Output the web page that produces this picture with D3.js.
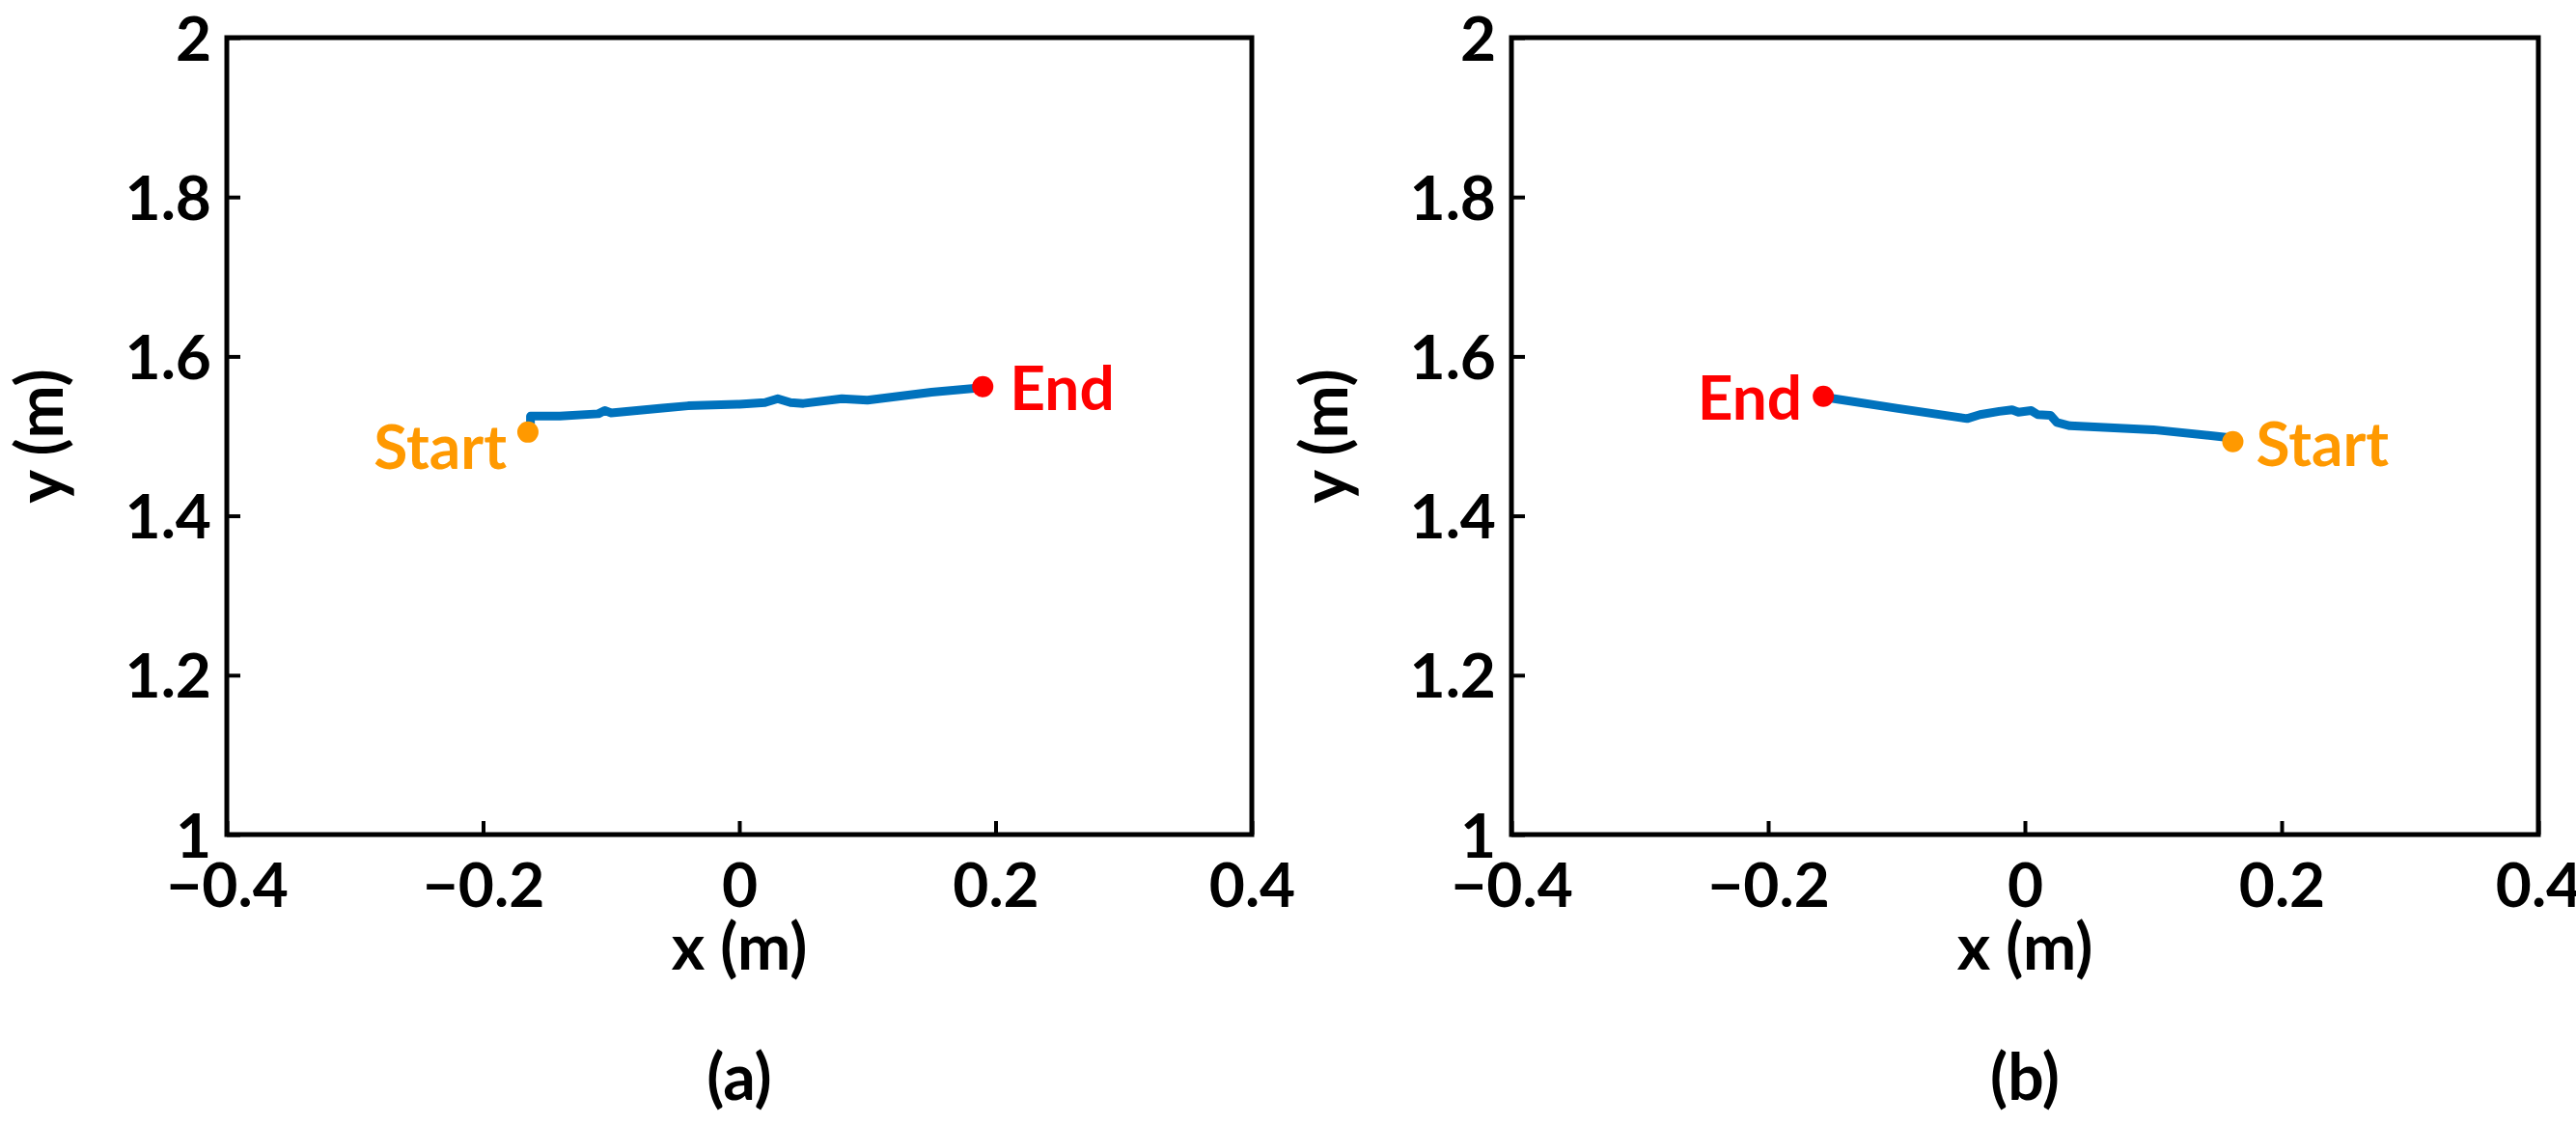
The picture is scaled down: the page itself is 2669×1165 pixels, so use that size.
<!DOCTYPE html>
<html><head><meta charset="utf-8">
<script src="https://cdn.jsdelivr.net/npm/d3@7"></script>
<style>body{margin:0;background:#fff}text{font-family:Lato,"Open Sans",sans-serif;font-weight:bold}</style>
</head><body><svg id="c" width="2669" height="1165"></svg>
<script>
const xTicks=[-0.4,-0.2,0,0.2,0.4];
const yTicks=[1,1.2,1.4,1.6,1.8,2];
const pathA_x=[-0.163,-0.163,-0.14,-0.11,-0.105,-0.1,-0.06,-0.04,0,0.02,0.03,0.04,0.05,0.08,0.1,0.15,0.19];
const pathA_y=[1.515,1.525,1.525,1.528,1.532,1.529,1.535,1.538,1.540,1.542,1.547,1.542,1.541,1.547,1.545,1.555,1.561];
const pathB_x=[-0.157,-0.1,-0.045,-0.035,-0.02,-0.01,-0.005,0.005,0.01,0.02,0.025,0.035,0.1,0.16];
const pathB_y=[1.549,1.535,1.522,1.527,1.531,1.533,1.530,1.532,1.527,1.526,1.517,1.513,1.508,1.498];
const panels=[
 {left:235,right:1297,px:pathA_x,py:pathA_y,start:[-0.165,1.505],end:[0.19,1.562],cap:"(a)",
  startLbl:{dx:-22,dy:38,anchor:"end"},endLbl:{dx:28,dy:14,anchor:"start"}},
 {left:1566,right:2630,px:pathB_x,py:pathB_y,start:[0.162,1.493],end:[-0.157,1.55],cap:"(b)",
  startLbl:{dx:24,dy:25,anchor:"start"},endLbl:{dx:-22,dy:14,anchor:"end"}}
];
const svg=d3.select("#c");
const plotTop=39,plotBottom=865;
panels.forEach(p=>{
 const x=d3.scaleLinear().domain([-0.4,0.4]).range([p.left,p.right]);
 const y=d3.scaleLinear().domain([1,2]).range([plotBottom,plotTop]);
 const g=svg.append("g");
 const ax=g.append("g").attr("transform",`translate(0,${plotBottom})`).call(d3.axisBottom(x).tickValues(xTicks).tickSize(-14).tickFormat(d=>d===0?"0":d3.format(".1f")(d)));
 const ay=g.append("g").attr("transform",`translate(${p.left},0)`).call(d3.axisLeft(y).tickValues(yTicks).tickSize(-14).tickFormat(d=>d===1||d===2?String(d):d3.format(".1f")(d)));
 [ax,ay].forEach(a=>{a.select(".domain").remove();a.selectAll("line").attr("stroke","#000").attr("stroke-width",4);
   a.selectAll("text").attr("font-size",64).attr("fill","#000").attr("font-family","Lato").attr("font-weight","bold");});
 ax.selectAll("text").attr("dy","0").attr("y",75);
 ay.selectAll("text").attr("x",-16).attr("dy","0.36em");
 g.append("rect").attr("x",p.left).attr("y",plotTop).attr("width",p.right-p.left).attr("height",plotBottom-plotTop).attr("fill","none").attr("stroke","#000").attr("stroke-width",5);
 const line=d3.line().x(i=>x(p.px[i])).y(i=>y(p.py[i]));
 g.append("path").attr("d",line(d3.range(p.px.length))).attr("fill","none").attr("stroke","#0072BD").attr("stroke-width",9).attr("stroke-linejoin","round");
 g.append("circle").attr("cx",x(p.start[0])).attr("cy",y(p.start[1])).attr("r",11).attr("fill","#FF9900");
 g.append("circle").attr("cx",x(p.end[0])).attr("cy",y(p.end[1])).attr("r",11).attr("fill","#FF0000");
 g.append("text").text("Start").attr("x",x(p.start[0])+p.startLbl.dx).attr("y",y(p.start[1])+p.startLbl.dy).attr("text-anchor",p.startLbl.anchor).attr("font-size",64).attr("fill","#FF9900");
 g.append("text").text("End").attr("x",x(p.end[0])+p.endLbl.dx).attr("y",y(p.end[1])+p.endLbl.dy+10).attr("text-anchor",p.endLbl.anchor).attr("font-size",64).attr("fill","#FF0000");
 const cx=(p.left+p.right)/2;
 g.append("text").text("x (m)").attr("x",cx).attr("y",1005).attr("text-anchor","middle").attr("font-size",66);
 g.append("text").text("y (m)").attr("transform",`translate(${p.left-170},${(plotTop+plotBottom)/2}) rotate(-90)`).attr("text-anchor","middle").attr("font-size",66);
 g.append("text").text(p.cap).attr("x",cx).attr("y",1140).attr("text-anchor","middle").attr("font-size",66).attr("font-family","'DejaVu Serif',serif").attr("font-weight","normal");
});
</script></body></html>
